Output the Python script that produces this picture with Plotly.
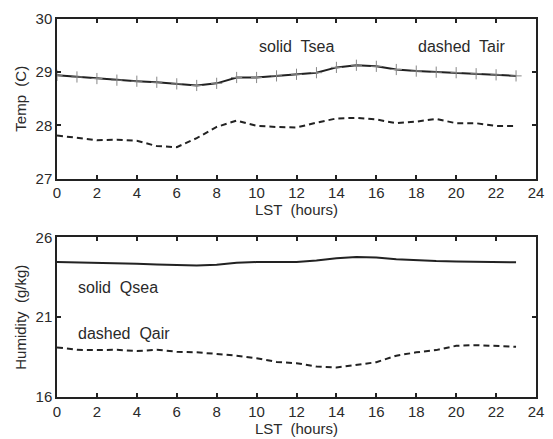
import plotly.graph_objects as go
from plotly.subplots import make_subplots

# Local solar time (hours)
hours = list(range(24))

# Diurnal composites
t_sea = [28.94, 28.91, 28.88, 28.85, 28.83, 28.81, 28.78, 28.75, 28.79, 28.90,
         28.90, 28.93, 28.96, 28.99, 29.09, 29.13, 29.11, 29.05, 29.02, 29.00,
         28.99, 28.97, 28.95, 28.93]
t_air = [27.81, 27.76, 27.72, 27.73, 27.71, 27.61, 27.59, 27.76, 27.97, 28.09,
         27.99, 27.97, 27.96, 28.05, 28.13, 28.14, 28.11, 28.04, 28.07, 28.12,
         28.04, 28.04, 27.99, 27.99]
q_sea = [24.46, 24.44, 24.40, 24.37, 24.35, 24.31, 24.27, 24.25, 24.29, 24.42,
         24.46, 24.48, 24.46, 24.56, 24.70, 24.77, 24.74, 24.64, 24.56, 24.52,
         24.49, 24.47, 24.44, 24.44]
q_air = [19.11, 18.96, 18.94, 18.96, 18.88, 18.96, 18.84, 18.80, 18.70, 18.59,
         18.43, 18.20, 18.12, 17.91, 17.85, 18.00, 18.18, 18.59, 18.80, 18.94,
         19.21, 19.25, 19.21, 19.15]

x_ticks = list(range(0, 25, 2))
temp_ticks = [27, 28, 29, 30]
hum_ticks = [16, 21, 26]

INK = "#222222"
TXT = "#2a2a2a"
FONT = "Liberation Sans, Arial, sans-serif"

fig = make_subplots(rows=2, cols=1, shared_xaxes=False, vertical_spacing=0.156)

solid = dict(color=INK, width=2)
dashed = dict(color=INK, width=2, dash="6px,4px")

fig.add_trace(go.Scatter(x=hours, y=t_sea, mode="lines+markers", line=solid,
                         marker=dict(symbol="cross-thin", size=8,
                                     line=dict(width=1, color="#888888")),
                         showlegend=False), row=1, col=1)
fig.add_trace(go.Scatter(x=hours, y=t_air, mode="lines", line=dashed,
                         showlegend=False), row=1, col=1)
fig.add_trace(go.Scatter(x=hours, y=q_sea, mode="lines", line=solid,
                         showlegend=False), row=2, col=1)
fig.add_trace(go.Scatter(x=hours, y=q_air, mode="lines", line=dashed,
                         showlegend=False), row=2, col=1)

axis_common = dict(showline=True, linecolor=INK, linewidth=1.5, mirror="ticks",
                   ticks="inside", ticklen=4, tickwidth=1.5, tickcolor=INK,
                   showgrid=False, zeroline=False,
                   tickfont=dict(family=FONT, size=15, color=TXT))

for r in (1, 2):
    fig.update_xaxes(range=[0, 24], tickvals=x_ticks,
                     title=dict(text="LST  (hours)", standoff=0,
                                font=dict(family=FONT, size=15, color=TXT)),
                     row=r, col=1, **axis_common)

fig.update_yaxes(range=[27, 30], tickvals=temp_ticks,
                 title=dict(text="Temp  (C)", standoff=5,
                            font=dict(family=FONT, size=15, color=TXT)),
                 row=1, col=1, **axis_common)
fig.update_yaxes(range=[16, 26], tickvals=hum_ticks,
                 title=dict(text="Humidity  (g/kg)", standoff=5,
                            font=dict(family=FONT, size=15, color=TXT)),
                 row=2, col=1, **axis_common)

# Line keys written inside the panels
notes = [
    ("x", "y", 12.0, 29.48, "solid  Tsea", "center"),
    ("x", "y", 20.3, 29.48, "dashed  Tair", "center"),
    ("x2", "y2", 0.95, 22.85, "solid  Qsea", "left"),
    ("x2", "y2", 0.95, 19.95, "dashed  Qair", "left"),
]
for xr, yr, xv, yv, txt, anchor in notes:
    fig.add_annotation(xref=xr, yref=yr, x=xv, y=yv, text=txt, showarrow=False,
                       xanchor=anchor,
                       font=dict(family=FONT, size=16, color=TXT))

fig.update_layout(
    width=553, height=439,
    margin=dict(l=57, r=9, t=19, b=36),
    paper_bgcolor="white", plot_bgcolor="white",
)
fig.update_yaxes(domain=[0.578, 1.0], row=1, col=1)
fig.update_yaxes(domain=[0.0, 0.422], row=2, col=1)

fig.write_html("out.html")
